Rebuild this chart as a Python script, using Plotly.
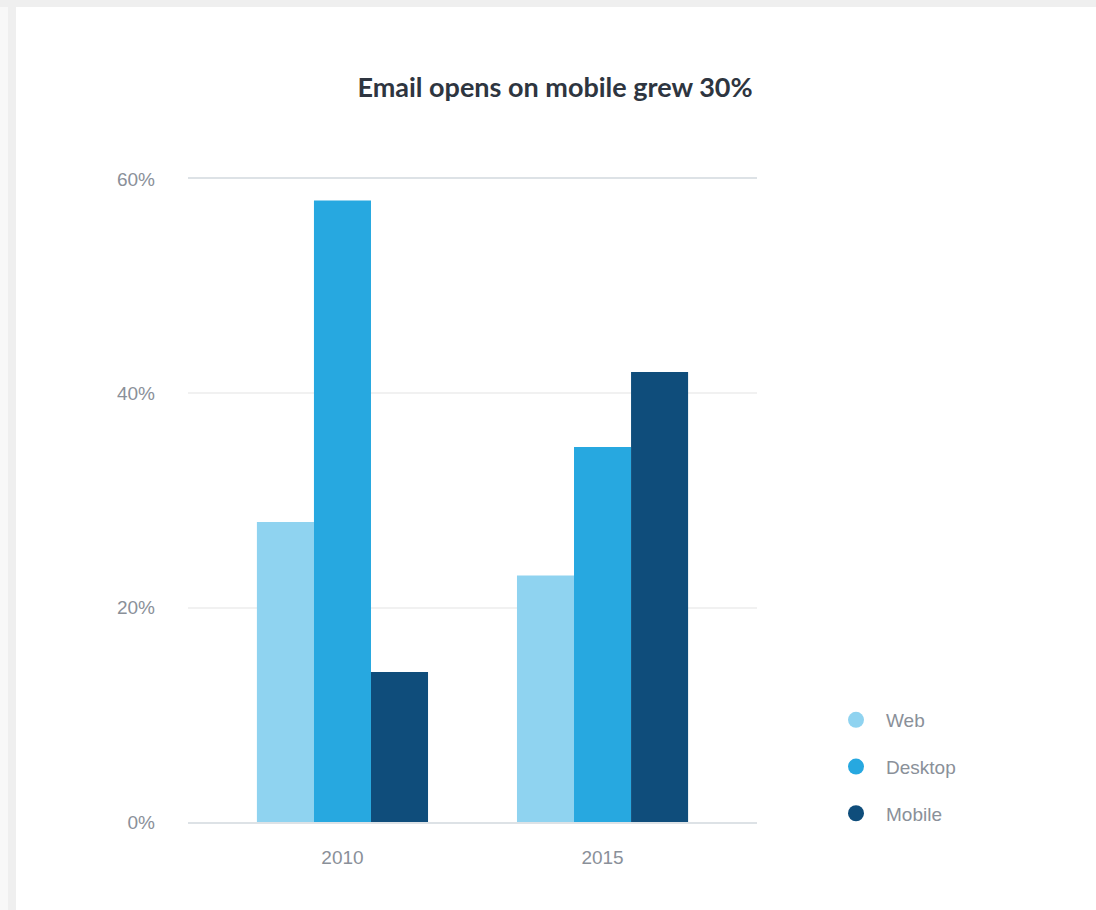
import plotly.graph_objects as go

years = ["2010", "2015"]
series_names = ["Web", "Desktop", "Mobile"]
web = [28, 23]
desktop = [58, 35]
mobile = [14, 42]
y_ticks = [0, 20, 40, 60]
y_tick_labels = ["0%", "20%", "40%", "60%"]

colors = ["#8fd3f0", "#27a8e0", "#0f4d7b"]
values = [web, desktop, mobile]

W, H = 1096, 910
L, R, T, B = 188, 339, 179, 88
pw, ph = W - L - R, H - T - B

def px_x(p):
    return (p - L) / pw

def px_y(p):
    return (H - B - p) / ph

fig = go.Figure()
for name, vals, c in zip(series_names, values, colors):
    fig.add_trace(go.Bar(x=years, y=vals, name=name, marker=dict(color=c, line=dict(width=0)),
                         showlegend=False))
for name, c in zip(series_names, colors):
    fig.add_trace(go.Scatter(x=[None], y=[None], mode="markers", name=name, legendgroup=name,
                             marker=dict(color=c, size=17, symbol="circle")))

tick_font = dict(family="Liberation Sans, Arial, sans-serif", size=19, color="#8a9099")

fig.update_layout(
    width=W, height=H,
    margin=dict(l=L, r=R, t=T, b=B, pad=0),
    paper_bgcolor="#efefef",
    plot_bgcolor="rgba(0,0,0,0)",
    barmode="group", bargap=0.342, bargroupgap=0,
    title=dict(text="<b>Email opens on mobile grew 30%</b>", x=555 / W, xanchor="center",
               xref="container", y=1 - 88 / H, yref="container", yanchor="middle",
               font=dict(family="Lato, sans-serif", size=27, color="#2e3540")),
    showlegend=True,
    legend=dict(x=px_x(826), xanchor="left", y=px_y(767), yanchor="middle",
                font=dict(family="Liberation Sans, Arial, sans-serif", size=19, color="#8a9099"),
                itemwidth=50, tracegroupgap=19, bgcolor="rgba(0,0,0,0)", traceorder="grouped"),
    shapes=[dict(type="rect", xref="paper", yref="paper", layer="below",
                 x0=px_x(16), x1=px_x(1110), y0=px_y(920), y1=px_y(7),
                 fillcolor="white", line=dict(width=0)),
            dict(type="rect", xref="paper", yref="paper", layer="below",
                 x0=px_x(0), x1=px_x(8), y0=px_y(920), y1=px_y(7),
                 fillcolor="#f8f8f8", line=dict(width=0))],
)
fig.update_xaxes(type="category", range=[-0.594, 1.594], showgrid=False, zeroline=False,
                 showline=True, mirror=True, linecolor="#dde2e6", linewidth=2,
                 ticks="", tickfont=tick_font, ticklabelstandoff=17)
fig.update_yaxes(range=[0, 60], tickvals=y_ticks, ticktext=y_tick_labels, showgrid=True,
                 gridcolor="#f1f1f1", gridwidth=2, zeroline=False, showline=False,
                 ticks="", tickfont=tick_font, ticklabelstandoff=32)

fig.write_html("out.html")
